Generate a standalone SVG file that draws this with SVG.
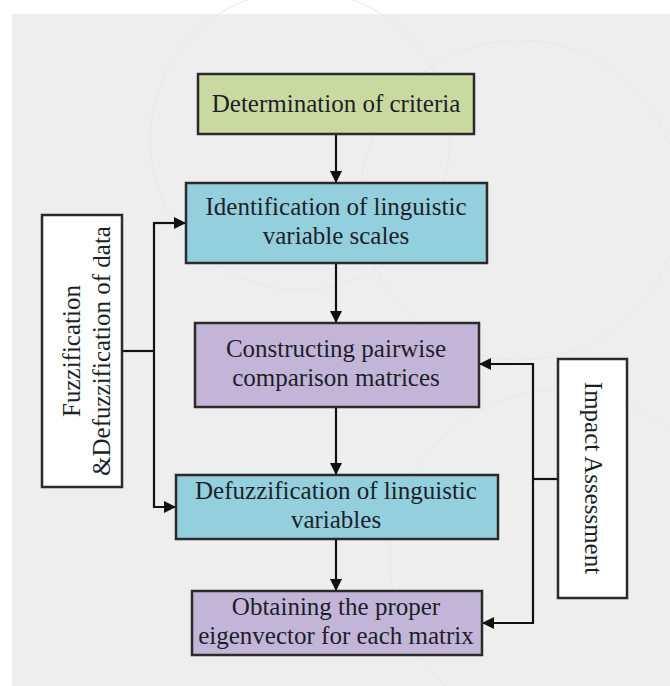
<svg xmlns="http://www.w3.org/2000/svg" width="670" height="686" viewBox="0 0 670 686">
  <defs>
    <marker id="arr" viewBox="0 0 12 12" refX="12" refY="6" markerWidth="12" markerHeight="12" markerUnits="userSpaceOnUse" orient="auto">
      <path d="M0,0 L12,6 L0,12 Z" fill="#111"/>
    </marker>
    <style>
      .box { stroke: #2b2b2b; stroke-width: 2.5; }
      .green { fill: #c9d99f; }
      .blue { fill: #93cfdd; }
      .purple { fill: #c3b5d7; }
      .white { fill: #ffffff; }
      .t { font-family: "Liberation Serif", "Times New Roman", serif; font-size: 25px; fill: #1c1f2a; text-anchor: middle; }
      .c { fill: none; stroke: #111; stroke-width: 2.2; }
      .arc { fill: none; stroke: #e8e8e8; stroke-width: 1; }
    </style>
  </defs>
  <rect x="0" y="0" width="670" height="686" fill="#ffffff"/>
  <rect x="12" y="14" width="658" height="672" fill="#eeeeee"/>
  <g id="background-arcs">
    <circle class="arc" cx="300" cy="140" r="150"/>
    <circle class="arc" cx="520" cy="200" r="160"/>
    <circle class="arc" cx="560" cy="560" r="170"/>
  </g>

  <g id="connectors">
    <line class="c" x1="336" y1="134" x2="336" y2="183" marker-end="url(#arr)"/>
    <line class="c" x1="336" y1="263" x2="336" y2="323" marker-end="url(#arr)"/>
    <line class="c" x1="336" y1="407" x2="336" y2="475" marker-end="url(#arr)"/>
    <line class="c" x1="336" y1="539" x2="336" y2="591" marker-end="url(#arr)"/>
    <line class="c" x1="122" y1="351" x2="154" y2="351"/>
    <polyline class="c" points="186,223 154,223 154,507 176,507" marker-end="url(#arr)"/>
    <path class="c" d="M154,223 L186,223" marker-end="url(#arr)"/>
    <line class="c" x1="558" y1="479" x2="533" y2="479"/>
    <polyline class="c" points="479,364 533,364 533,623 482,623" marker-end="url(#arr)"/>
    <path class="c" d="M533,364 L479,364" marker-end="url(#arr)"/>
  </g>

  <g id="determination">
    <rect class="box green" x="198" y="74" width="276" height="60"/>
    <text class="t" x="336" y="112">Determination of criteria</text>
  </g>
  <g id="identification">
    <rect class="box blue" x="186" y="183" width="301" height="80"/>
    <text class="t" x="336" y="215">Identification of linguistic</text>
    <text class="t" x="336" y="244">variable scales</text>
  </g>
  <g id="constructing">
    <rect class="box purple" x="195" y="323" width="284" height="84"/>
    <text class="t" x="336" y="357">Constructing pairwise</text>
    <text class="t" x="336" y="386">comparison matrices</text>
  </g>
  <g id="defuzzification">
    <rect class="box blue" x="176" y="475" width="322" height="64"/>
    <text class="t" x="336" y="499">Defuzzification of linguistic</text>
    <text class="t" x="336" y="528">variables</text>
  </g>
  <g id="obtaining">
    <rect class="box purple" x="192" y="591" width="290" height="64"/>
    <text class="t" x="336" y="615">Obtaining the proper</text>
    <text class="t" x="336" y="644">eigenvector for each matrix</text>
  </g>
  <g id="fuzzification">
    <rect class="box white" x="42" y="215" width="80" height="272"/>
    <text class="t" transform="translate(80,351) rotate(-90)" x="0" y="0">Fuzzification</text>
    <text class="t" transform="translate(110,351) rotate(-90)" x="0" y="0">&amp;Defuzzification of data</text>
  </g>
  <g id="impact">
    <rect class="box white" x="558" y="359" width="69" height="239"/>
    <text class="t" transform="translate(585,478) rotate(90)" x="0" y="0">Impact Assessment</text>
  </g>
</svg>
